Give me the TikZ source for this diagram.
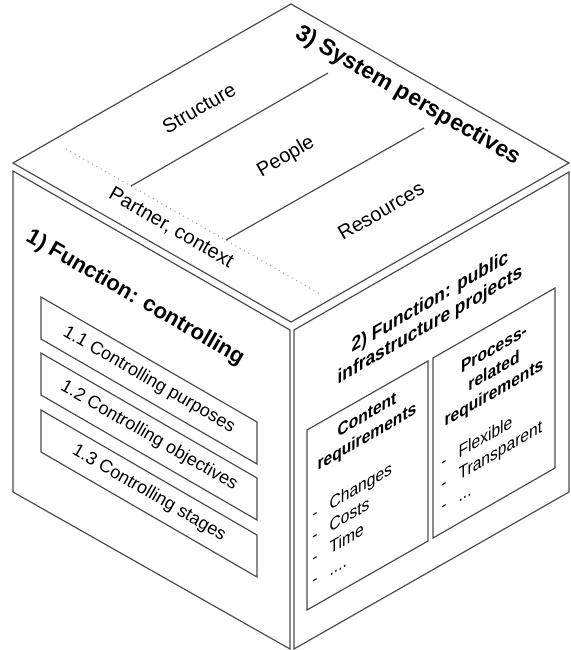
\documentclass[tikz,border=0pt]{standalone}
\usepackage{fontspec}
\setmainfont{Liberation Sans}

\begin{document}
\begin{tikzpicture}[x=0.5pt,y=-0.5pt,
    face/.style={draw=black!70,line width=0.6pt},
    sepline/.style={draw=black!40,line width=0.5pt,dotted},
    toplabel/.style={rotate=30,font=\fontsize{10}{12}\selectfont},
    leftlabel/.style={rotate=-30,font=\fontsize{9}{11}\selectfont},
    rightlabel/.style={cm={0.866,0.5,0,1,(0,0)},align=center,font=\bfseries\fontsize{9}{11}\selectfont},
    rightlist/.style={cm={0.866,0.5,0,1,(0,0)},anchor=west,inner sep=0pt,font=\fontsize{9}{11}\selectfont}]
  \useasboundingbox (0,0) rectangle (571,650);
  % the three faces
  \draw[face] (291,4) -- (569,163) -- (291,322) -- (13,163) -- cycle;       % top
  \draw[face] (13,171) -- (290,330) -- (290,649) -- (13,492) -- cycle;      % left
  \draw[face] (294,330) -- (569,172) -- (569,492) -- (294,649) -- cycle;    % right
  % top face: system perspectives
  \draw[sepline] (66,149) -- (322,295);
  \draw[face] (131,186) -- (328,73);
  \draw[face] (226,240) -- (424,128);
  \node[rotate=-30,font=\bfseries\fontsize{11.5}{13}\selectfont] (system) at (408,96) {3) System perspectives};
  \node[toplabel] (structure) at (199,108) {Structure};
  \node[toplabel] (people) at (286,157) {People};
  \node[toplabel] (resources) at (381,211) {Resources};
  \node[rotate=-30,font=\fontsize{10}{12}\selectfont] (partner) at (171,228) {Partner, context};
  % left face: controlling
  \node[rotate=-30,font=\bfseries\fontsize{11}{13}\selectfont] (controlling) at (135,298) {1) Function: controlling};
  \draw[face] (41,297) -- (257,422) -- (257,464) -- (41,339) -- cycle;
  \draw[face] (41,353) -- (257,478) -- (257,520) -- (41,395) -- cycle;
  \draw[face] (41,410) -- (257,535) -- (257,577) -- (41,452) -- cycle;
  \node[leftlabel] (purposes) at (149,380) {1.1 Controlling purposes};
  \node[leftlabel] (objectives) at (149,436) {1.2 Controlling objectives};
  \node[leftlabel] (stages) at (149,493) {1.3 Controlling stages};
  % right face: public infrastructure projects
  \node[rightlabel,font=\bfseries\fontsize{10}{11.5}\selectfont] (projects) at (430,314) {2) Function: public\\infrastructure projects};
  \draw[face] (307,430) -- (428,361) -- (428,541) -- (307,610) -- cycle;
  \draw[face] (433,358) -- (555,288) -- (555,468) -- (433,538) -- cycle;
  \node[rightlabel] (content) at (367,427) {Content\\requirements};
  \node[rightlabel] (process) at (494,372) {Process-\\related\\requirements};
  \node[rightlist] (contentlist) at (312,549) {\begin{tabular}{@{}l@{\hspace{7pt}}l@{}}
    - & Changes\\ - & Costs\\ - & Time\\ - & ....\end{tabular}};
  \node[rightlist] (processlist) at (441,486) {\begin{tabular}{@{}l@{\hspace{7pt}}l@{}}
    - & Flexible\\ - & Transparent\\ - & ...\end{tabular}};
\end{tikzpicture}
\end{document}
